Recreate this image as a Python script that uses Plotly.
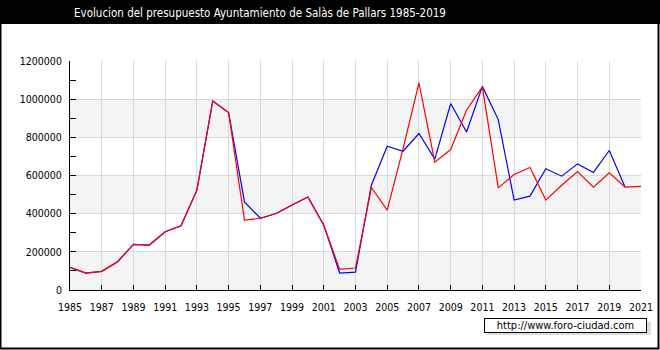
import plotly.graph_objects as go

years = list(range(1985, 2022))
red_values = [118800, 89000, 97800, 148000, 239000, 235500, 305000, 336700, 523000, 990600, 930000,
              366000, 376000, 401000, 445000, 487000, 340000, 108000, 115000, 537000, 418600, 741000,
              1085000, 670000, 736000, 942000, 1064000, 535000, 605000, 642000, 471000, 549000, 621000,
              539000, 614000, 539000, 542500]
blue_values = [118800, 89000, 97800, 148000, 239000, 235500, 305000, 336700, 523000, 990600, 930000,
               462000, 376000, 401000, 445000, 487000, 340000, 89000, 94000, 549000, 753000, 727000,
               820000, 686000, 977000, 828000, 1067000, 893000, 471000, 492000, 635000, 596500, 661000,
               616000, 731000, 539000, None]
y_tick_values = [0, 200000, 400000, 600000, 800000, 1000000, 1200000]
x_tick_values = list(range(1985, 2022, 2))
title_text = "Evolucion del presupuesto Ayuntamiento de Salàs de Pallars 1985-2019"
source_text = "http://www.foro-ciudad.com"

W, H = 660, 350
L, R, T, B = 70, 19, 61, 60
PW, PH = W - L - R, H - T - B


def px(x):
    return (x - L) / PW


def py(y):
    return (H - B - y) / PH


FONT = "DejaVu Sans Condensed, DejaVu Sans, sans-serif"

fig = go.Figure()
fig.add_trace(go.Scatter(x=years, y=blue_values, mode="lines",
                         line=dict(color="#0000ff", width=1.2), connectgaps=False, hoverinfo="skip"))
fig.add_trace(go.Scatter(x=years, y=red_values, mode="lines",
                         line=dict(color="#ff0000", width=1.2), hoverinfo="skip"))

shapes = []
# alternating bands
for lo in (0, 400000, 800000):
    shapes.append(dict(type="rect", xref="paper", yref="y", x0=0, x1=1, y0=lo, y1=lo + 200000,
                       fillcolor="#f4f4f4", line=dict(width=0), layer="below"))
# title bar
shapes.append(dict(type="rect", xref="paper", yref="paper", x0=px(0), x1=px(W), y0=py(24), y1=py(0),
                   fillcolor="#000000", line=dict(width=0), layer="above"))
# source box shadow
shapes.append(dict(type="rect", xref="paper", yref="paper", x0=px(487), x1=px(651), y0=py(335), y1=py(322),
                   fillcolor="#dddddd", line=dict(width=0), layer="above"))
# outer border
shapes.append(dict(type="rect", xref="paper", yref="paper", x0=px(0.5), x1=px(W - 1.5), y0=py(H - 1.5), y1=py(0.5),
                   fillcolor="rgba(0,0,0,0)", line=dict(color="#000000", width=2), layer="above"))

annotations = [
    dict(text=title_text, xref="paper", yref="paper", x=px(260), y=py(12.5), showarrow=False,
         xanchor="center", yanchor="middle", font=dict(family=FONT, size=11.5, color="#ffffff")),
    dict(text=source_text, xref="paper", yref="paper", x=px(565.5), y=py(325), showarrow=False,
         xanchor="center", yanchor="middle", bgcolor="#ffffff", bordercolor="#000000", borderwidth=1,
         borderpad=0, width=161, font=dict(family=FONT, size=11, color="#000000")),
]

fig.update_layout(
    width=W, height=H, margin=dict(l=L, r=R, t=T, b=B, autoexpand=False),
    paper_bgcolor="#ffffff", plot_bgcolor="#ffffff", showlegend=False,
    shapes=shapes, annotations=annotations,
    font=dict(family=FONT, size=10, color="#000000"),
)
fig.update_xaxes(range=[1985, 2021], tickvals=x_tick_values, ticktext=[str(v) for v in x_tick_values],
                 showgrid=True, gridcolor="#d9d9d9", gridwidth=1,
                 showline=True, linecolor="#000000", linewidth=1,
                 ticks="inside", ticklen=5, tickcolor="#000000", zeroline=False,
                 ticklabelstandoff=7,
                 tickfont=dict(family=FONT, size=10.5))
fig.update_yaxes(range=[0, 1200000], tickvals=y_tick_values, ticktext=[str(v) for v in y_tick_values],
                 showgrid=True, gridcolor="#d9d9d9", gridwidth=1,
                 showline=True, linecolor="#000000", linewidth=1,
                 ticks="inside", ticklen=6, tickcolor="#000000", zeroline=False,
                 ticklabelstandoff=5,
                 minor=dict(dtick=100000, tick0=0, ticks="inside", ticklen=6, tickcolor="#000000", showgrid=False),
                 tickfont=dict(family=FONT, size=10.5))

fig.write_html("out.html")
